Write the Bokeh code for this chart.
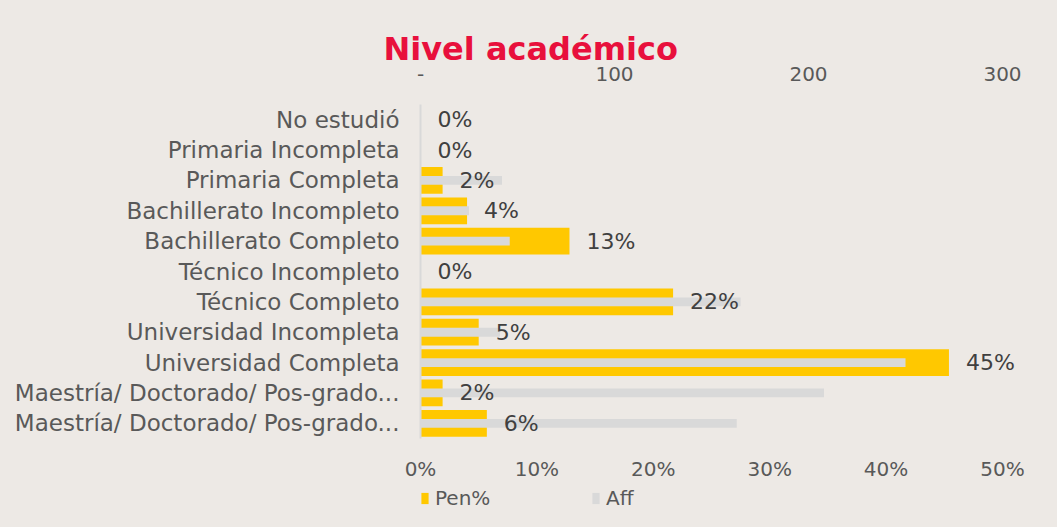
from bokeh.plotting import figure
from bokeh.layouts import column
from bokeh.models import (Range1d, LinearAxis, FixedTicker, PrintfTickFormatter,
                          LabelSet, ColumnDataSource, Legend, LegendItem)
from bokeh.core.properties import value
from bokeh.embed import file_html
from bokeh.resources import INLINE

categories = ["No estudió", "Primaria Incompleta", "Primaria Completa",
              "Bachillerato Incompleto", "Bachillerato Completo",
              "Técnico Incompleto", "Técnico Completo",
              "Universidad Incompleta", "Universidad Completa",
              "Maestría/ Doctorado/ Pos-grado...",
              "Maestría/ Doctorado/ Pos-grado..."]
pen_pct = [0, 0, 1.9, 4.0, 12.8, 0, 21.7, 5.0, 45.4, 1.9, 5.7]
aff = [0, 0, 42, 25, 46, 0, 165, 41, 250, 208, 163]
pct_ticks = [0, 10, 20, 30, 40, 50]
aff_ticks = [0, 100, 200, 300]

BG = "#EDE9E5"
YELLOW = "#FFC800"
GREY = "#D9D9D9"
TXT = "#595959"
FONT = "DejaVu Sans"

# plot frame extends a little past the last tick so that the "45%" label is not clipped
AXIS_W = 582
FRAME_W = 620
ext = FRAME_W / AXIS_W

pos = list(range(len(categories)))
src = ColumnDataSource(dict(pos=pos, pen=pen_pct, aff=aff,
                            lbl=[f"{round(v)}%" for v in pen_pct]))

p = figure(frame_width=FRAME_W, frame_height=334, output_backend="svg",
           toolbar_location=None,
           x_range=Range1d(0, pct_ticks[-1] * ext),
           y_range=Range1d(len(categories) - 0.5, -0.5),
           min_border_left=420, min_border_right=17, min_border_top=104,
           min_border_bottom=49)
p.extra_x_ranges = {"aff": Range1d(0, aff_ticks[-1] * ext)}

p.background_fill_color = BG
p.border_fill_color = BG
p.outline_line_color = None
p.xgrid.visible = False
p.ygrid.visible = False

r1 = p.hbar(y="pos", left=0, right="pen", height=0.88, source=src,
            fill_color=YELLOW, line_color=None)
r2 = p.hbar(y="pos", left=0, right="aff", height=0.29, source=src,
            x_range_name="aff", fill_color=GREY, line_color=None)

labels = LabelSet(x="pen", y="pos", text="lbl", source=src, x_offset=17,
                  text_baseline="middle", text_align="left",
                  text_font_size="22px", text_color="#404040",
                  text_font=value(FONT))
p.add_layout(labels)

# bottom axis (percent)
xa = p.xaxis[0]
xa.ticker = FixedTicker(ticks=pct_ticks)
xa.formatter = PrintfTickFormatter(format="%d%%")
xa.axis_line_color = None
xa.major_tick_line_color = None
xa.minor_tick_line_color = None
xa.major_tick_out = 0
xa.major_label_standoff = 18
xa.major_label_text_font_size = "20px"
xa.major_label_text_color = TXT
xa.major_label_text_font = FONT

# top axis (Aff)
ta = LinearAxis(x_range_name="aff", ticker=FixedTicker(ticks=aff_ticks),
                major_label_overrides={0: "-"})
ta.axis_line_color = None
ta.major_tick_line_color = None
ta.minor_tick_line_color = None
ta.major_tick_out = 0
ta.major_label_standoff = 24
ta.major_label_text_font_size = "20px"
ta.major_label_text_color = TXT
ta.major_label_text_font = FONT
p.add_layout(ta, "above")

# category axis
ya = p.yaxis[0]
ya.ticker = FixedTicker(ticks=pos)
ya.major_label_overrides = {i: c for i, c in zip(pos, categories)}
ya.axis_line_color = GREY
ya.axis_line_width = 2
ya.major_tick_line_color = None
ya.minor_tick_line_color = None
ya.major_tick_out = 0
ya.major_label_standoff = 21
ya.major_label_text_font_size = "23px"
ya.major_label_text_color = TXT
ya.major_label_text_font = FONT

p.title.text = "Nivel académico"
p.title.align = "left"
p.title.offset = -37
p.title.standoff = -9
p.title.text_font = FONT
p.title.text_font_size = "32px"
p.title.text_font_style = "bold"
p.title.text_color = "#E8103C"

# legend strip below the chart
lg = figure(width=1057, height=40, output_backend="svg", toolbar_location=None,
            x_range=Range1d(0, 1), y_range=Range1d(100, 101),
            x_axis_location=None, y_axis_location=None,
            min_border_left=0, min_border_right=0, min_border_top=0,
            min_border_bottom=0)
lg.background_fill_color = BG
lg.border_fill_color = BG
lg.outline_line_color = None
lg.xgrid.visible = False
lg.ygrid.visible = False
l1 = lg.hbar(y="pos", left=0, right="pen", height=0.88, source=src,
             fill_color=YELLOW, line_color=None)
l2 = lg.hbar(y="pos", left=0, right="pen", height=0.29, source=src,
             fill_color=GREY, line_color=None)
legend = Legend(items=[LegendItem(label="Pen%", renderers=[l1]),
                       LegendItem(label="Aff", renderers=[l2])],
                orientation="horizontal", location=(0, 17),
                background_fill_alpha=0, border_line_color=None,
                glyph_width=9, glyph_height=14, label_standoff=6, spacing=6,
                label_width=150, padding=0, margin=0,
                label_text_font_size="20px", label_text_color=TXT,
                label_text_font=FONT)
lg.add_layout(legend)

layout = column(p, lg, spacing=0)
layout.styles = {"background-color": BG}
open("out.html", "w").write(file_html(layout, INLINE))
